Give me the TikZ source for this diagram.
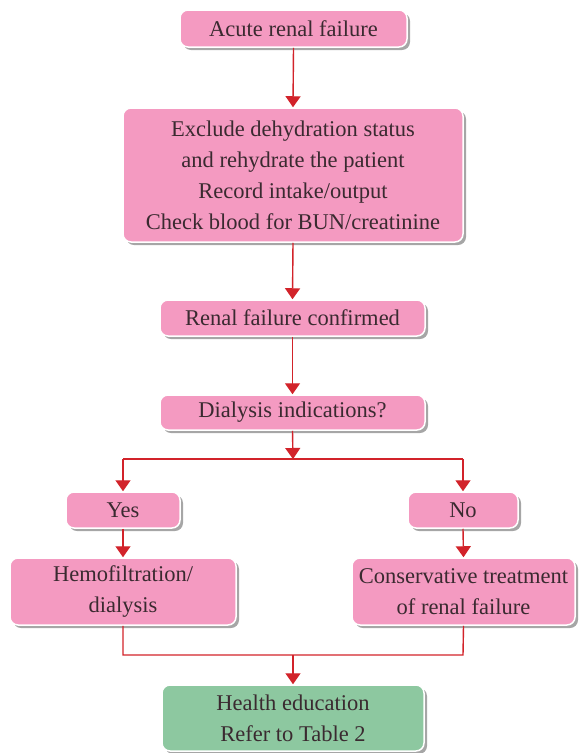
\documentclass[tikz,border=0pt]{standalone}
\usepackage{fontspec}
\setmainfont{Liberation Serif}
\usetikzlibrary{shadows,arrows.meta}
\definecolor{boxpink}{HTML}{F49AC1}
\definecolor{boxgreen}{HTML}{8DC8A0}
\definecolor{arrred}{HTML}{D2232A}
\definecolor{txt}{HTML}{3A2A30}
\tikzset{
  fbox/.style={draw=white, line width=1.5pt, fill=boxpink, rounded corners=8pt,
    drop shadow={shadow xshift=3pt, shadow yshift=-3pt, fill=black, opacity=0.35},
    align=center, text=txt, font=\fontsize{22.5}{31}\selectfont, inner sep=0pt},
  gbox/.style={fbox, fill=boxgreen},
  conn/.style={draw=arrred, line width=1.4pt},
  arr/.style={conn, -{Triangle[length=11pt,width=15pt]}}
}
\begin{document}
\begin{tikzpicture}[x=1pt,y=-1pt]
\useasboundingbox (0,0) rectangle (579,753);
\node[fbox, minimum width=227pt, minimum height=37pt] (a) at (293.5,28.5) {Acute renal failure};
\node[fbox, minimum width=340pt, minimum height=134pt] (b) at (293,175) {Exclude dehydration status\\and rehydrate the patient\\Record intake/output\\Check blood for BUN/creatinine};
\node[fbox, minimum width=265pt, minimum height=36pt] (c) at (292.5,318) {Renal failure confirmed};
\node[fbox, minimum width=265pt, minimum height=35pt] (d) at (292.5,412.5) {Dialysis indications?};
\node[fbox, minimum width=114pt, minimum height=36pt] (yes) at (123,510) {Yes};
\node[fbox, minimum width=110pt, minimum height=36pt] (no) at (463,510) {No};
\node[fbox, minimum width=226pt, minimum height=67pt] (h) at (123,591.5) {Hemofiltration/\\dialysis};
\node[fbox, minimum width=223pt, minimum height=67pt] (cons) at (463.5,591.5) {Conservative treatment\\of renal failure};
\node[gbox, minimum width=262pt, minimum height=66pt] (he) at (293,718) {Health education\\Refer to Table 2};
\coordinate (j1) at (293,459);
\coordinate (jl) at (123,459);
\coordinate (jr) at (463,459);
\coordinate (k1) at (293,655);
\coordinate (kl) at (123,655);
\coordinate (kr) at (463,655);
\draw[arr] (a.south) -- (b.north);
\draw[arr] (b.south) -- (c.north);
\draw[arr] (c.south) -- (d.north);
\draw[arr] (d.south) -- (j1);
\draw[conn] (jl) -- (jr);
\draw[arr] (jl) -- (yes.north);
\draw[arr] (jr) -- (no.north);
\draw[arr] (yes.south) -- (h.north);
\draw[arr] (no.south) -- (cons.north);
\draw[conn] (h.south) -- (kl) -- (kr) -- (cons.south);
\draw[arr] (k1) -- (he.north);
\end{tikzpicture}
\end{document}
